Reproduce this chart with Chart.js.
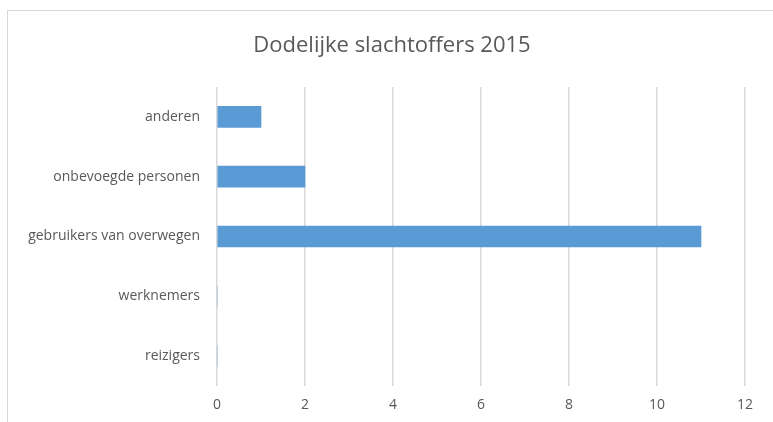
<!DOCTYPE html>
<html>
<head>
<meta charset="utf-8">
<script src="https://cdn.jsdelivr.net/npm/chart.js@4"></script>
<style>
  body { margin: 0; background: #fff; }
  #frame { position: absolute; left: 7px; top: 10px; width: 900px; height: 600px; border: 1px solid #d9d9d9; }
  #wrap { position: absolute; left: 0; top: 0; width: 773px; height: 422px; }
</style>
</head>
<body>
<div id="frame"></div>
<div id="wrap"><canvas id="victimsChart"></canvas></div>
<script>
// data
const chartTitle = 'Dodelijke slachtoffers 2015';
const categories = ['anderen', 'onbevoegde personen', 'gebruikers van overwegen', 'werknemers', 'reizigers'];
const victims = [1, 2, 11, 0, 0];
const xTicks = [0, 2, 4, 6, 8, 10, 12];

const labelFont = { family: 'Open Sans', size: 14 };

// title is centred on the whole frame, not on the chart box, so draw it ourselves
const frameTitle = {
  id: 'frameTitle',
  afterDraw(chart) {
    const ctx = chart.ctx;
    ctx.save();
    ctx.font = '22px "Open Sans"';
    ctx.fillStyle = '#595959';
    ctx.textAlign = 'center';
    ctx.textBaseline = 'middle';
    ctx.fillText(chartTitle, 392, 46);
    ctx.restore();
  }
};

// horizontal bar chart
const victimsChart = document.getElementById('victimsChart');

var barChart = new Chart(victimsChart, {
  type: 'bar',
  data: {
    labels: categories,
    datasets: [
      {
        data: victims,
        backgroundColor: '#5b9bd5',
        barThickness: 21
      }
    ]
  },
  options: {
    indexAxis: 'y',
    animation: false,
    responsive: true,
    maintainAspectRatio: false,
    layout: {
      padding: { left: 8, right: 28, top: 87, bottom: 0 }
    },
    plugins: {
      legend: { display: false },
      tooltip: { enabled: false },
      title: { display: false }
    },
    scales: {
      x: {
        min: xTicks[0],
        max: xTicks[xTicks.length - 1],
        afterBuildTicks: function (scale) {
          scale.ticks = xTicks.map(v => ({ value: v }));
        },
        afterFit: function (scale) {
          scale.height = 36;
        },
        border: { display: false },
        grid: { color: '#d9d9d9', lineWidth: 1.5, drawTicks: false },
        ticks: { color: '#595959', font: labelFont, padding: 11 }
      },
      y: {
        afterFit: function (scale) {
          scale.width = 209;
        },
        border: { display: false },
        grid: { display: false, drawTicks: false },
        ticks: { color: '#595959', font: labelFont, padding: 17 }
      }
    }
  },
  plugins: [frameTitle]
});
</script>
</body>
</html>
